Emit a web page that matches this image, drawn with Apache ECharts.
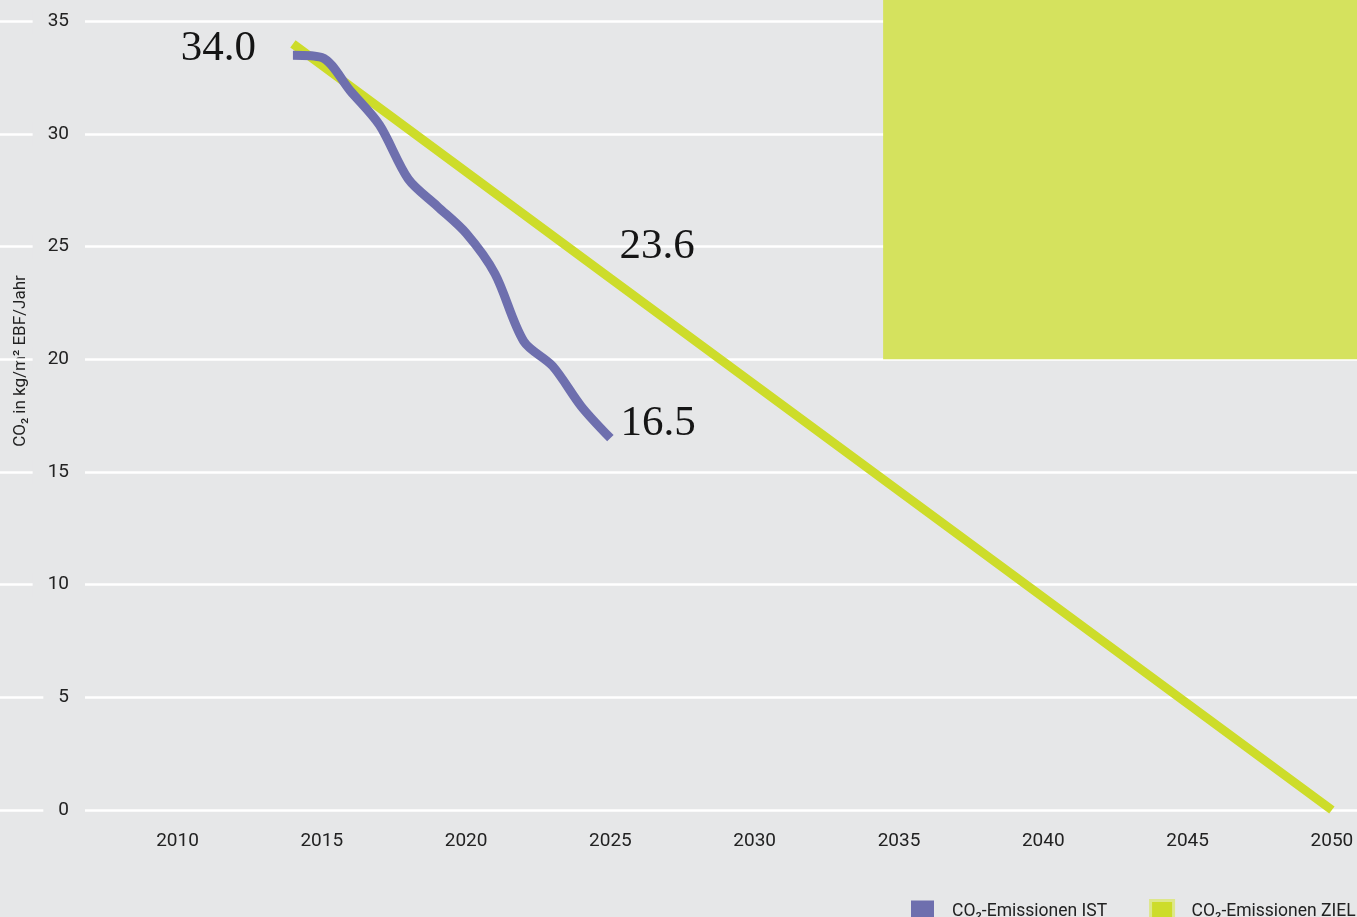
<!DOCTYPE html>
<html>
<head>
<meta charset="utf-8">
<title>CO₂-Emissionen</title>
<script src="https://cdn.jsdelivr.net/npm/echarts@6/dist/echarts.min.js"></script>
<style>
  html, body { margin: 0; padding: 0; background: #e6e7e8; }
  #chart { width: 1357px; height: 917px; }
</style>
</head>
<body>
<div id="chart"></div>
<script>
// Actual emissions per year (kg CO2 per m² EBF and year)
const istYears  = [2014, 2015, 2016, 2017, 2018, 2019, 2020, 2021, 2022, 2023, 2024, 2025];
const istValues = [33.5, 33.4, 31.9, 30.4, 28.0, 26.8, 25.6, 23.8, 20.8, 19.7, 17.9, 16.5];

// Target path down to zero in 2050
const zielYears  = [2014, 2025, 2050];
const zielValues = [34.0, 23.6, 0];

// Axis ticks
const xTickYears  = [2010, 2015, 2020, 2025, 2030, 2035, 2040, 2045, 2050];
const yTickValues = [0, 5, 10, 15, 20, 25, 30, 35];

// Axis extents
const X_MIN = 2003.85, X_MAX = 2050.87;
const Y_MIN = 0, Y_MAX = 35.95;

// Highlighted panel (upper right)
const panelFrom = [2034.45, 20];

const NAME_IST  = 'CO₂-Emissionen IST';
const NAME_ZIEL = 'CO₂-Emissionen ZIEL';

const C_BG = '#e6e7e8', C_IST = '#6e6fae', C_ZIEL = '#cddc2a', C_PANEL = '#d5e25e';
const SANS = 'Roboto';
const SERIF = 'Liberation Serif';

const bigLabel = { show: true, fontFamily: SERIF, fontSize: 43, color: '#151515' };

// Which points carry a value label, and where it sits
const zielLabels = {
  0: { position: 'left', distance: 37, offset: [0, 5] },
  1: { position: 'right', distance: 9, offset: [0, -32] }
};
const istLabels = {
  11: { position: 'right', distance: 10, offset: [0, -15] }
};

function buildData(years, values, labels) {
  return years.map((y, i) => {
    const item = { value: [y, values[i]] };
    if (labels[i]) {
      item.label = Object.assign({}, bigLabel, labels[i], {
        formatter: p => p.value[1].toFixed(1)
      });
    }
    return item;
  });
}

const chart = echarts.init(document.getElementById('chart'));

chart.setOption({
  backgroundColor: C_BG,
  animation: false,
  grid: { left: 0, right: 0, top: 0, bottom: 107, containLabel: false },
  xAxis: {
    type: 'value', min: X_MIN, max: X_MAX,
    axisLine: { show: false },
    axisTick: { show: false, customValues: xTickYears },
    splitLine: { show: false },
    axisLabel: {
      customValues: xTickYears, margin: 22,
      formatter: v => String(v),
      fontFamily: SANS, fontSize: 19, color: '#222'
    }
  },
  yAxis: [
    {
      // gridlines
      type: 'value', min: Y_MIN, max: Y_MAX, z: 0,
      axisLine: { show: false },
      axisTick: { show: false, customValues: yTickValues },
      axisLabel: { show: false, customValues: yTickValues },
      splitLine: { show: true, lineStyle: { color: '#ffffff', width: 2.5 } }
    },
    {
      // tick labels sitting on top of the gridlines
      type: 'value', min: Y_MIN, max: Y_MAX, z: 10, position: 'left',
      axisLine: { show: false },
      axisTick: { show: false, customValues: yTickValues },
      splitLine: { show: false },
      axisLabel: {
        customValues: yTickValues, inside: true, margin: 85, align: 'right',
        fontFamily: SANS, fontSize: 19, color: '#222',
        backgroundColor: C_BG, padding: [3, 16, 3, 15]
      }
    }
  ],
  legend: {
    left: 911, top: 899, width: 700, padding: 0,
    icon: 'rect', itemWidth: 23, itemHeight: 23, itemGap: 42,
    textStyle: { fontFamily: SANS, fontSize: 17.5, color: '#222', padding: [0, 0, 0, 13] },
    data: [
      { name: NAME_IST },
      { name: NAME_ZIEL, itemStyle: { borderColor: '#dde78a', borderWidth: 3 } }
    ]
  },
  graphic: [
    {
      type: 'text', x: 21, y: 361, rotation: Math.PI / 2,
      style: {
        text: 'CO₂ in kg/m² EBF/Jahr', font: '17px Roboto',
        fill: '#222', align: 'center', verticalAlign: 'middle'
      }
    }
  ],
  series: [
    {
      name: NAME_ZIEL, type: 'line', yAxisIndex: 0,
      data: buildData(zielYears, zielValues, zielLabels),
      symbol: 'circle', symbolSize: 0, showSymbol: true,
      lineStyle: { color: C_ZIEL, width: 9, cap: 'butt' },
      itemStyle: { color: C_ZIEL },
      silent: true, z: 2,
      markArea: {
        silent: true,
        itemStyle: { color: C_PANEL, opacity: 1 },
        data: [[{ xAxis: panelFrom[0], yAxis: panelFrom[1] }, { xAxis: X_MAX, yAxis: Y_MAX }]]
      }
    },
    {
      name: NAME_IST, type: 'line', yAxisIndex: 0,
      data: buildData(istYears, istValues, istLabels),
      smooth: 0.3,
      symbol: 'circle', symbolSize: 0, showSymbol: true,
      lineStyle: { color: C_IST, width: 9, cap: 'butt', join: 'round' },
      itemStyle: { color: C_IST },
      silent: true, z: 3
    }
  ]
});
</script>
</body>
</html>
